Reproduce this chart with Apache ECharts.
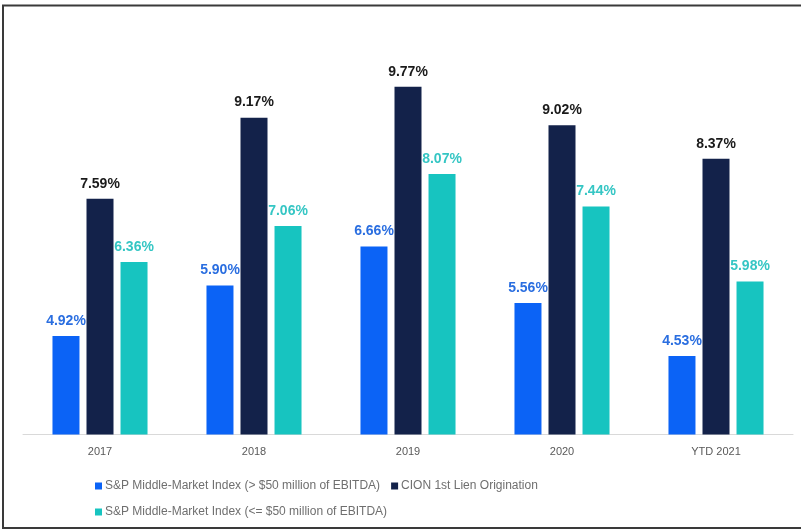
<!DOCTYPE html>
<html>
<head>
<meta charset="utf-8">
<script src="https://cdn.jsdelivr.net/npm/echarts@6/dist/echarts.min.js"></script>
<style>
html,body{margin:0;padding:0;background:#fff;}
#chart{width:801px;height:532px;}
</style>
</head>
<body>
<div id="chart"></div>
<script>
const categories = ['2017', '2018', '2019', '2020', 'YTD 2021'];
const spLarge = [4.92, 5.90, 6.66, 5.56, 4.53];
const cion = [7.59, 9.17, 9.77, 9.02, 8.37];
const spSmall = [6.36, 7.06, 8.07, 7.44, 5.98];
const seriesNames = [
  'S&P Middle-Market Index (> $50 million of EBITDA)',
  'CION 1st Lien Origination',
  'S&P Middle-Market Index (<= $50 million of EBITDA)'
];

const chart = echarts.init(document.getElementById('chart'), null, {renderer: 'canvas'});
const labelFont = {fontFamily: 'Liberation Sans', fontWeight: 'bold', fontSize: 14};
function mkSeries(name, data, color, labelColor) {
  return {
    name: name,
    type: 'bar',
    data: data,
    barWidth: 27,
    barGap: '26%',
    itemStyle: {color: color},
    label: Object.assign({
      show: true,
      position: 'top',
      distance: 8,
      color: labelColor,
      formatter: p => p.value.toFixed(2) + '%'
    }, labelFont)
  };
}
chart.setOption({
  animation: false,
  backgroundColor: '#ffffff',
  grid: {left: 23, right: 8, top: 75, bottom: 97.5},
  xAxis: {
    type: 'category',
    data: categories,
    axisLine: {lineStyle: {color: '#d9d9d9', width: 1}},
    axisTick: {show: false},
    axisLabel: {color: '#595959', fontSize: 11, fontFamily: 'Liberation Sans', margin: 12}
  },
  yAxis: {
    type: 'value',
    min: 3,
    max: 10,
    show: false,
    splitLine: {show: false}
  },
  legend: [
    {
      data: [seriesNames[0], seriesNames[1]],
      left: 90, top: 475,
      icon: 'rect', itemWidth: 7, itemHeight: 7, itemGap: 11,
      textStyle: {color: '#6f6f6f', fontSize: 12, fontFamily: 'Liberation Sans', padding: [0,0,0,-2]}
    },
    {
      data: [seriesNames[2]],
      left: 90, top: 501,
      icon: 'rect', itemWidth: 7, itemHeight: 7,
      textStyle: {color: '#6f6f6f', fontSize: 12, fontFamily: 'Liberation Sans', padding: [0,0,0,-2]}
    }
  ],
  graphic: [
    {
      type: 'rect',
      shape: {x: 3, y: 5.5, width: 830, height: 522.5},
      style: {fill: 'none', stroke: '#3a3a3a', lineWidth: 2},
      silent: true
    }
  ],
  series: [
    mkSeries(seriesNames[0], spLarge, '#0b63f6', '#2a6ee0'),
    mkSeries(seriesNames[1], cion, '#13224a', '#1a1a1a'),
    mkSeries(seriesNames[2], spSmall, '#17c4c0', '#35c6c4')
  ]
});
</script>
</body>
</html>
